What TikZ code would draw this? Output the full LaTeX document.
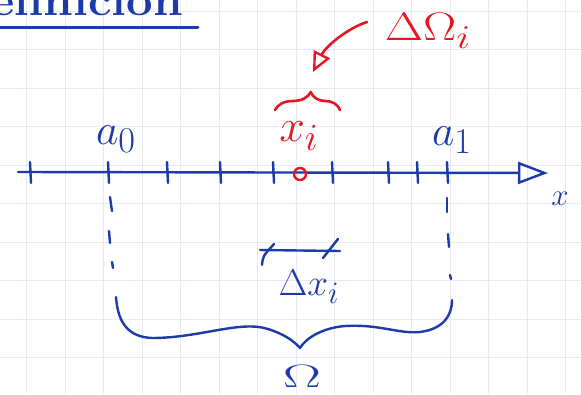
\documentclass[tikz,border=0pt]{standalone}
\usetikzlibrary{arrows.meta,decorations.pathreplacing}
\definecolor{ink}{RGB}{28,58,168}
\definecolor{redink}{RGB}{232,22,32}
\definecolor{gridc}{RGB}{228,235,242}
\begin{document}
\begin{tikzpicture}[x=1pt,y=-1pt,line cap=round,line join=round,
  inkline/.style={draw=ink,line width=2.4pt},
  redline/.style={draw=redink,line width=2.6pt},
  lab/.style={text=ink,font=\Huge,inner sep=0pt},
  rlab/.style={lab,text=redink}]
\useasboundingbox (0,0) rectangle (581,394);
\clip (0,0) rectangle (581,394);
\fill[white] (0,0) rectangle (581,394);
% faint grid
\foreach \gx in {26.5,65,103.5,142,180.5,219,257.5,296,334.5,373,411.5,450,488.5,527,565.5}
  \draw[gridc,line width=0.7pt] (\gx,0) -- (\gx,394);
\foreach \gy in {11,49.5,88,126.5,165,203.5,242,280.5,319,357.5}
  \draw[gridc,line width=0.7pt] (0,\gy) -- (581,\gy);
% title (cut at top)
\node[lab,anchor=base west] (title) at (-10,15) {\scalebox{1.9}[1.75]{\bfseries efinicion}};
\draw[inkline,line width=3pt] (0,27) -- (198,27);
% axis
\coordinate (xs) at (18,172);
\coordinate (xe) at (548,173);
\draw[inkline,-{Triangle[open,length=30pt,width=22pt,line width=2.4pt]}] (xs) -- (xe);
\foreach \tx [count=\k] in {30,108,167,220,273,332,388,417,447}{
  \coordinate (t\k) at (\tx,173);
  \draw[inkline] (\tx,162) -- (\tx+1,183);
}
% point x_i
\node[draw=redink,line width=2.4pt,circle,minimum size=12pt,inner sep=0pt] (pt) at (300,174) {};
% labels on axis
\node[lab] (a0) at (116,139) {\scalebox{1.75}{$a_0$}};
\node[lab] (a1) at (452,140) {\scalebox{1.75}{$a_1$}};
\node[rlab] (xi) at (299,136) {\scalebox{1.85}{$x_i$}};
\node[lab] (xl) at (560,199) {\scalebox{1.25}{$x$}};
% dashed drops
\draw[inkline] (110,197) -- (112,211);
\draw[inkline] (109,231) -- (110,243);
\draw[inkline] (112,262) -- (113,268);
\draw[inkline] (447,198) -- (447,212);
\draw[inkline] (448,234) -- (449,247);
\draw[inkline] (450,275) -- (451,279);
% delta x_i segment
\coordinate (dl) at (260,250);
\coordinate (dr) at (340,251);
\draw[inkline] (dl) -- (dr);
\draw[inkline] (262,265) .. controls (263,256) .. (274,244);
\draw[inkline] (323,258) -- (338,239);
\node[lab] (dx) at (309,287) {\scalebox{1.5}{$\Delta x_i$}};
% big brace (hand drawn)
\coordinate (bl) at (116,297);
\coordinate (btip) at (300,348);
\coordinate (br) at (452,300);
\draw[inkline] (bl) .. controls (118,325) and (130,337) .. (152,338)
  .. controls (200,338) and (240,320) .. (268,329)
  .. controls (284,334) and (294,341) .. (btip)
  .. controls (306,338) and (322,328) .. (345,326)
  .. controls (380,324) and (398,334) .. (420,332)
  .. controls (443,329) and (452,316) .. (br);
\node[lab] (om) at (302,376) {\scalebox{2.3}[1.3]{$\Omega$}};
% red brace above x_i
\coordinate (rl) at (275,110);
\coordinate (rr) at (340,110);
\draw[redline,decorate,decoration={brace,amplitude=18pt,aspect=0.55}] (rl) -- (rr);
% red label and arrow
\node[rlab] (dO) at (428,31) {\scalebox{2.0}[1.6]{$\Delta\Omega_i$}};
\coordinate (as) at (367,22);
\coordinate (atip) at (313,72);
\draw[redline,-{Triangle[open,length=20pt,width=18pt,line width=2.4pt]}] (as) .. controls (348,28) and (326,46) .. (atip);
\end{tikzpicture}
\end{document}
